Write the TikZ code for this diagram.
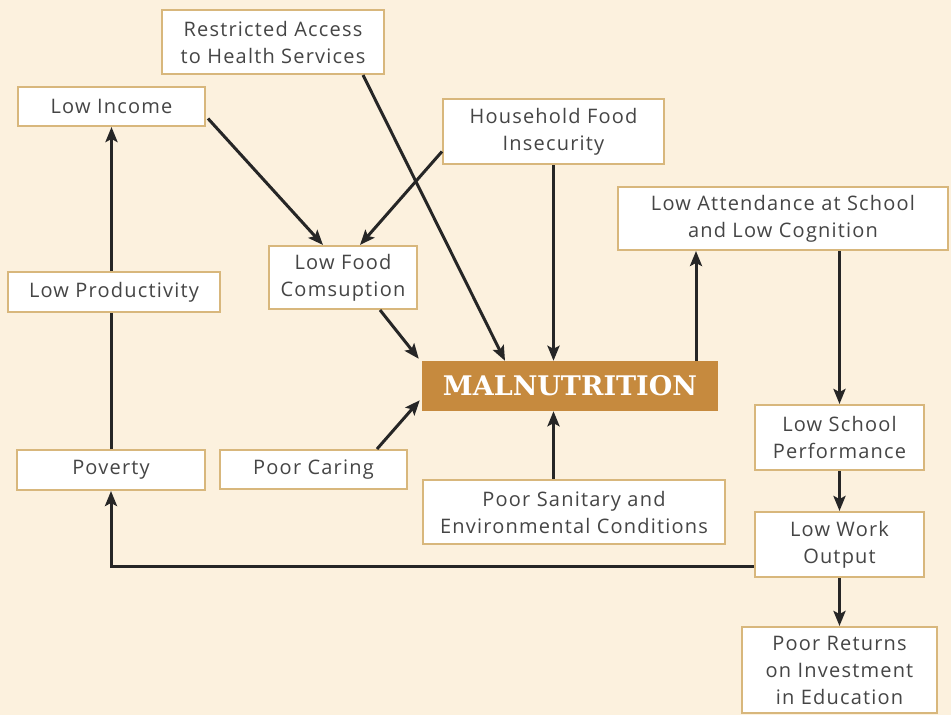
\documentclass[tikz,border=0pt]{standalone}
\usepackage{fontspec}
\setmainfont{Open Sans}[LetterSpace=6]
\newfontfamily\malnfont{DejaVu Serif}
\usetikzlibrary{arrows.meta,calc}
\definecolor{bgcol}{HTML}{FCF1DE}
\definecolor{bordercol}{HTML}{D8B77C}
\definecolor{malncol}{HTML}{C68A3E}
\definecolor{txtcol}{HTML}{454545}
\definecolor{arrcol}{HTML}{262626}
\tikzset{
  box/.style={draw=bordercol, line width=2pt, fill=white, inner sep=0pt,
    align=center, text=txtcol, font=\fontsize{20}{27}\selectfont},
  mainbox/.style={fill=malncol, inner sep=0pt, text=white,
    font=\malnfont\bfseries\fontsize{27}{30}\selectfont},
  conn/.style={draw=arrcol, line width=3pt},
  arr/.style={conn, -{Stealth[length=15pt,width=12pt,inset=3pt]}},
}
\begin{document}
\begin{tikzpicture}[x=1pt,y=-1pt]
\fill[bgcol] (0,0) rectangle (951,715);
\useasboundingbox (0,0) rectangle (951,715);

\node[box, minimum width=222pt, minimum height=64pt] (restricted) at (273,42) {Restricted Access\\to Health Services};
\node[box, minimum width=187pt, minimum height=39pt] (income) at (111.5,106.5) {Low Income};
\node[box, minimum width=221pt, minimum height=65pt] (household) at (553.5,131.5) {Household Food\\Insecurity};
\node[box, minimum width=148pt, minimum height=63pt] (food) at (343,277.5) {Low Food\\Comsuption};
\node[box, minimum width=212pt, minimum height=40pt] (productivity) at (114,292) {Low Productivity};
\node[box, minimum width=330pt, minimum height=63pt] (attendance) at (783,218.5) {Low Attendance at School\\and Low Cognition};
\node[mainbox, minimum width=296pt, minimum height=50pt] (maln) at (570,386) {MALNUTRITION};
\node[box, minimum width=188pt, minimum height=40pt] (poverty) at (111,470) {Poverty};
\node[box, minimum width=187pt, minimum height=39pt] (caring) at (313.5,469.5) {Poor Caring};
\node[box, minimum width=302pt, minimum height=64pt] (sanitary) at (574,512) {Poor Sanitary and\\Environmental Conditions};
\node[box, minimum width=169pt, minimum height=65pt] (school) at (839.5,437.5) {Low School\\Performance};
\node[box, minimum width=169pt, minimum height=65pt] (work) at (839.5,544.5) {Low Work\\Output};
\node[box, minimum width=195pt, minimum height=86pt] (returns) at (839.5,670) {Poor Returns\\on Investment\\in Education};

% left column
\draw[arr] (income.south |- productivity.north) -- (income.south);
\draw[conn] (poverty.north) -- (poverty.north |- productivity.south);

% into Low Food Consumption
\draw[arr] ([xshift=2pt,yshift=-12pt]income.east) -- ([xshift=-20pt]food.north);
\draw[arr] ([yshift=-20pt]household.west) -- ([xshift=17pt]food.north);

% into MALNUTRITION
\draw[arr] ([xshift=90pt]restricted.south) -- ([xshift=-65pt]maln.north);
\draw[arr] (household.south) -- (household.south |- maln.north);
\draw[arr] ([xshift=37pt]food.south) -- ([xshift=-3pt,yshift=2pt]maln.north west);
\draw[arr] ([xshift=63.5pt]caring.north) -- ([xshift=-2pt,yshift=11pt]maln.south west);
\draw[arr] (household.south |- sanitary.north) -- (household.south |- maln.south);

% out of MALNUTRITION
\draw[arr] ([xshift=126pt]maln.north) -- ([xshift=126pt]maln.north |- attendance.south);

% right column
\draw[arr] (school.north |- attendance.south) -- (school.north);
\draw[arr] (school.south) -- (work.north);
\draw[arr] (work.south) -- (returns.north);

% feedback to Poverty
\draw[arr] ([yshift=-21.5pt]work.west) -| (poverty.south);
\end{tikzpicture}
\end{document}
